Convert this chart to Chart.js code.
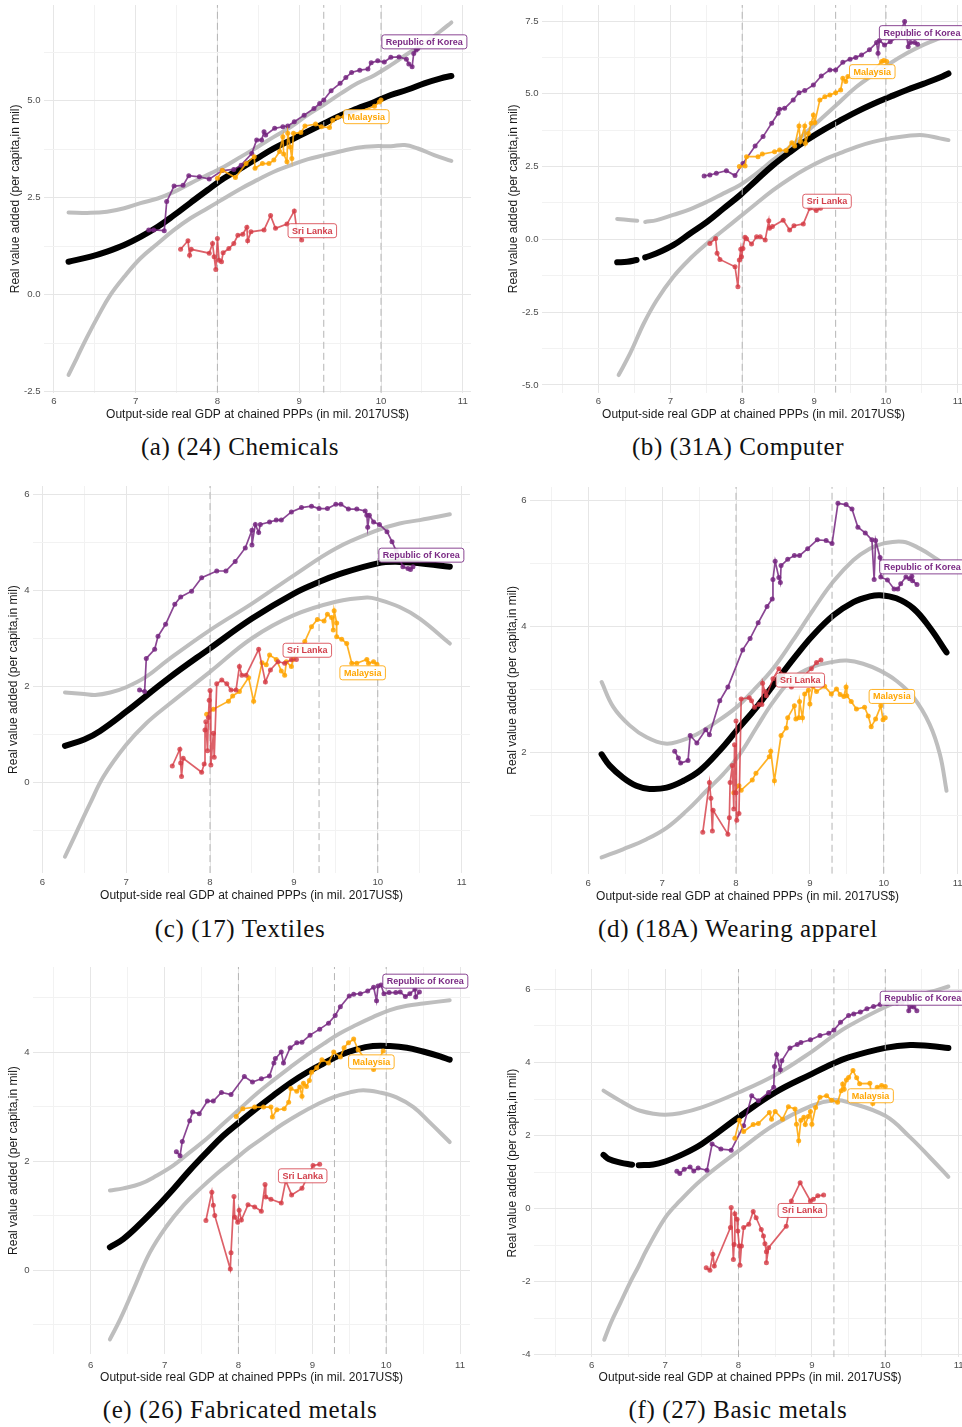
<!DOCTYPE html>
<html>
<head>
<meta charset="utf-8">
<script src="https://cdn.jsdelivr.net/npm/chart.js@4.4.0/dist/chart.umd.min.js"></script>
<style>
html, body { margin:0; padding:0; background:#fff; }
body { width:962px; height:1427px; overflow:hidden; position:relative; }
canvas { position:absolute; }
.cap { position:absolute; font-family:"Liberation Serif", serif; font-size:25px; letter-spacing:0.6px; color:#111;
       white-space:nowrap; transform:translate(-50%,-50%); }
</style>
</head>
<body>
<script>
// ---- shared ----
const countries = ['Republic of Korea', 'Malaysia', 'Sri Lanka'];
const vlines = [8, 9.3, 10];
const xTickVals = [5.5, 6, 6.5, 7, 7.5, 8, 8.5, 9, 9.5, 10, 10.5, 11];
const xTickLabels = ['', '6', '', '7', '', '8', '', '9', '', '10', '', '11'];

// ---- (a) (24) Chemicals ----
const chemFit = [[6.18,0.85],[6.45,0.98],[6.65,1.11],[6.86,1.28],[7.06,1.49],[7.27,1.75],[7.47,2.05],[7.67,2.37],[7.88,2.7],[8.08,3.0],[8.29,3.26],[8.49,3.52],[8.69,3.77],[8.9,3.99],[9.1,4.2],[9.31,4.42],[9.51,4.63],[9.71,4.8],[9.92,4.97],[10.12,5.15],[10.33,5.29],[10.53,5.45],[10.73,5.58],[10.86,5.64]];
const chemUpper = [[6.18,2.12],[6.45,2.11],[6.65,2.14],[6.86,2.23],[7.06,2.36],[7.27,2.48],[7.47,2.65],[7.67,2.87],[7.88,3.09],[8.08,3.3],[8.29,3.56],[8.49,3.81],[8.69,4.07],[8.9,4.33],[9.1,4.63],[9.31,4.91],[9.51,5.19],[9.71,5.45],[9.92,5.66],[10.12,5.92],[10.33,6.22],[10.53,6.48],[10.73,6.8],[10.86,7.02]];
const chemLower = [[6.18,-2.07],[6.28,-1.64],[6.4,-1.12],[6.55,-0.52],[6.69,-0.01],[6.86,0.46],[7.06,0.94],[7.27,1.32],[7.47,1.67],[7.67,1.97],[7.88,2.23],[8.08,2.48],[8.29,2.74],[8.49,2.96],[8.69,3.17],[8.9,3.34],[9.1,3.49],[9.31,3.6],[9.51,3.7],[9.71,3.79],[9.92,3.83],[10.12,3.83],[10.29,3.86],[10.45,3.77],[10.65,3.6],[10.86,3.45]];
const chemKorea = [[7.16,1.67],[7.22,1.67],[7.35,1.65],[7.38,2.4],[7.47,2.8],[7.58,2.82],[7.65,3.07],[7.78,3.04],[7.9,2.98],[8.06,3.2],[8.2,3.23],[8.29,3.34],[8.42,3.64],[8.48,3.99],[8.54,3.99],[8.57,4.2],[8.59,4.12],[8.7,4.29],[8.8,4.33],[8.86,4.35],[8.94,4.46],[9.06,4.63],[9.18,4.8],[9.25,4.93],[9.3,5.02],[9.39,5.26],[9.5,5.45],[9.57,5.6],[9.64,5.73],[9.74,5.79],[9.84,5.82],[9.88,5.98],[9.96,6.03],[10.04,6.0],[10.12,6.12],[10.22,6.13],[10.31,6.07],[10.34,5.95],[10.38,5.88],[10.4,6.22],[10.43,6.31],[10.45,6.35]];
const chemMalaysia = [[8.0,3.0],[8.06,3.21],[8.22,3.02],[8.35,3.38],[8.45,3.56],[8.46,3.26],[8.55,3.38],[8.63,3.38],[8.69,3.47],[8.76,3.69],[8.8,4.07],[8.81,3.63],[8.85,3.43],[8.86,4.16],[8.89,3.81],[8.91,3.51],[8.93,4.16],[9.02,4.18],[9.07,4.35],[9.2,4.4],[9.27,4.33],[9.37,4.31],[9.41,4.5],[9.47,4.57],[9.55,4.59],[9.92,4.86],[9.98,4.97],[10.0,5.02]];
const chemSriLanka = [[7.55,1.17],[7.64,1.39],[7.66,1.02],[7.68,1.17],[7.9,1.07],[7.94,1.32],[7.96,0.98],[7.98,0.65],[8.0,1.45],[8.02,0.89],[8.05,0.85],[8.07,1.08],[8.14,1.19],[8.2,1.32],[8.25,1.53],[8.31,1.56],[8.36,1.74],[8.37,1.39],[8.41,1.62],[8.57,1.67],[8.65,2.04],[8.71,1.71],[8.85,1.82],[8.94,2.16],[8.97,1.67],[9.03,1.41]];
const chemLabels = [[10.53,6.52],[9.82,4.59],[9.16,1.65]];
const chemYTicks = [-2.5, -1.25, 0, 1.25, 2.5, 3.75, 5, 6.25];
const chemYLabels = ['-2.5', '', '0.0', '', '2.5', '', '5.0', ''];

// ---- (b) (31A) Computer ----
const compFit = [[6.26,-0.79],[6.4,-0.77],[6.53,-0.71],[6.58,null],[6.65,-0.62],[6.81,-0.48],[7.04,-0.2],[7.28,0.21],[7.51,0.6],[7.74,1.06],[7.97,1.52],[8.2,2.04],[8.43,2.55],[8.67,3.01],[8.9,3.41],[9.13,3.76],[9.36,4.08],[9.59,4.38],[9.82,4.65],[10.06,4.9],[10.29,5.13],[10.52,5.34],[10.75,5.56],[10.87,5.7]];
const compUpper = [[6.26,0.7],[6.45,0.66],[6.54,0.64],[6.58,null],[6.65,0.6],[6.81,0.66],[7.04,0.84],[7.28,1.04],[7.51,1.29],[7.74,1.58],[7.97,1.87],[8.2,2.27],[8.43,2.73],[8.67,3.18],[8.9,3.7],[9.13,4.21],[9.36,4.73],[9.59,5.24],[9.82,5.65],[10.06,6.05],[10.29,6.39],[10.52,6.68],[10.75,6.91],[10.87,7.02]];
const compLower = [[6.28,-4.66],[6.44,-3.92],[6.63,-2.89],[6.81,-2.09],[7.04,-1.29],[7.28,-0.65],[7.51,-0.14],[7.74,0.32],[7.97,0.78],[8.2,1.24],[8.43,1.69],[8.67,2.1],[8.9,2.44],[9.13,2.73],[9.36,2.96],[9.59,3.18],[9.82,3.35],[10.06,3.47],[10.29,3.55],[10.52,3.58],[10.75,3.47],[10.87,3.41]];
const compKorea = [[7.47,2.18],[7.55,2.21],[7.64,2.27],[7.78,2.36],[7.9,2.19],[8.01,2.61],[8.18,3.21],[8.29,3.53],[8.41,3.99],[8.5,4.33],[8.52,4.47],[8.59,4.5],[8.71,4.79],[8.79,5.04],[8.87,5.11],[8.99,5.3],[9.1,5.61],[9.22,5.82],[9.3,5.82],[9.4,6.08],[9.5,6.19],[9.58,6.25],[9.66,6.33],[9.77,6.51],[9.87,6.76],[9.89,6.39],[9.91,6.83],[9.98,6.68],[10.06,6.79],[10.17,6.96],[10.26,7.48],[10.31,6.62],[10.34,6.76],[10.4,6.76],[10.44,6.7]];
const compMalaysia = [[7.96,2.5],[8.04,2.52],[8.06,2.84],[8.22,2.84],[8.28,2.93],[8.45,3.01],[8.52,3.07],[8.61,3.05],[8.69,3.32],[8.73,3.21],[8.79,3.89],[8.81,3.36],[8.87,3.89],[8.88,3.3],[8.92,3.64],[8.96,3.99],[8.99,4.27],[9.01,4.01],[9.08,4.79],[9.15,4.9],[9.22,4.96],[9.3,5.04],[9.37,5.13],[9.4,5.53],[9.44,5.42],[9.47,5.59],[9.73,5.57],[9.94,6.11],[9.97,6.14],[10.01,6.11]];
const compSriLanka = [[7.55,-0.14],[7.63,0.03],[7.65,-0.48],[7.69,-0.69],[7.9,-0.94],[7.94,-1.63],[7.96,-0.71],[7.98,-0.34],[7.99,-0.6],[8.01,-0.31],[8.04,0.07],[8.06,0.02],[8.13,-0.16],[8.2,0.09],[8.25,0.09],[8.32,-0.02],[8.37,0.64],[8.38,0.38],[8.42,0.44],[8.57,0.66],[8.66,0.32],[8.72,0.47],[8.85,0.53],[8.94,1.07],[9.03,0.99],[9.09,1.07]];
const compLabels = [[10.5,7.1],[9.81,5.76],[9.18,1.31]];
const compYTicks = [-5, -3.75, -2.5, -1.25, 0, 1.25, 2.5, 3.75, 5, 6.25, 7.5];
const compYLabels = ['-5.0', '', '-2.5', '', '0.0', '', '2.5', '', '5.0', '', '7.5'];

// ---- (c) (17) Textiles ----
const texFit = [[6.27,0.76],[6.5,0.89],[6.69,1.07],[7,1.47],[7.5,2.16],[8,2.79],[8.5,3.41],[9,3.93],[9.3,4.17],[9.5,4.31],[10,4.56],[10.26,4.59],[10.5,4.56],[10.86,4.49]];
const texUpper = [[6.27,1.87],[6.5,1.84],[6.63,1.82],[6.81,1.87],[7,1.98],[7.24,2.2],[7.5,2.55],[8,3.17],[8.5,3.72],[9,4.31],[9.5,4.87],[10,5.25],[10.26,5.39],[10.5,5.46],[10.86,5.58]];
const texLower = [[6.27,-1.55],[6.41,-1.03],[6.57,-0.44],[6.73,0.12],[7,0.78],[7.24,1.23],[7.5,1.61],[8,2.3],[8.5,3.0],[9,3.48],[9.5,3.76],[9.87,3.85],[10,3.81],[10.26,3.65],[10.5,3.41],[10.86,2.89]];
const texKorea = [[7.16,1.92],[7.22,1.89],[7.24,2.58],[7.34,2.77],[7.38,3.04],[7.47,3.29],[7.58,3.71],[7.65,3.86],[7.78,3.98],[7.9,4.26],[8.08,4.4],[8.19,4.4],[8.3,4.6],[8.42,4.88],[8.5,5.25],[8.5,4.94],[8.54,5.37],[8.58,5.2],[8.6,5.37],[8.71,5.42],[8.79,5.46],[8.85,5.46],[8.97,5.63],[9.09,5.72],[9.21,5.75],[9.3,5.7],[9.4,5.7],[9.5,5.79],[9.56,5.79],[9.65,5.69],[9.75,5.69],[9.85,5.65],[9.87,5.56],[9.88,5.31],[9.9,5.56],[9.95,5.42],[10.02,5.37],[10.11,5.22],[10.17,5.01],[10.22,4.82],[10.3,4.49],[10.36,4.45],[10.39,4.43],[10.42,4.49]];
const texMalaysia = [[7.96,1.42],[8.04,1.52],[8.22,1.69],[8.27,1.8],[8.35,1.89],[8.46,2.18],[8.52,1.69],[8.62,2.49],[8.67,2.45],[8.71,2.65],[8.79,2.56],[8.85,2.32],[8.89,2.23],[8.91,2.51],[8.97,2.41],[8.99,2.56],[9.13,2.93],[9.21,3.24],[9.28,3.39],[9.36,3.36],[9.4,3.5],[9.45,3.43],[9.47,3.17],[9.48,3.57],[9.51,3.32],[9.51,3.03],[9.57,2.98],[9.63,2.89],[9.69,2.48],[9.75,2.48],[9.87,2.56],[9.89,2.48],[9.95,2.51],[9.99,2.46]];
const texSriLanka = [[7.55,0.34],[7.64,0.69],[7.65,0.4],[7.66,0.12],[7.68,0.5],[7.9,0.21],[7.93,0.38],[7.94,1.09],[7.95,1.26],[7.97,0.66],[7.98,1.35],[7.99,1.71],[8.0,1.91],[8.01,0.36],[8.04,1.02],[8.05,0.52],[8.08,2.05],[8.14,2.13],[8.2,2.05],[8.25,1.92],[8.31,1.92],[8.35,2.41],[8.38,2.23],[8.43,2.23],[8.58,2.77],[8.66,2.09],[8.72,2.34],[8.81,2.51],[8.89,2.48],[8.97,2.55],[9.03,2.56]];
const texLabels = [[10.52,4.73],[9.82,2.28],[9.16,2.75]];
const texYTicks = [-1, 0, 1, 2, 3, 4, 5, 6];
const texYLabels = ['', '0', '', '2', '', '4', '', '6'];

// ---- (d) (18A) Wearing apparel ----
const wearFit = [[6.18,1.97],[6.29,1.79],[6.47,1.6],[6.65,1.47],[6.83,1.42],[7.06,1.44],[7.29,1.55],[7.51,1.71],[7.78,2.03],[8.01,2.35],[8.28,2.72],[8.55,3.14],[8.82,3.55],[9.04,3.86],[9.32,4.18],[9.59,4.39],[9.81,4.48],[9.95,4.5],[10.17,4.45],[10.4,4.29],[10.62,3.99],[10.85,3.59]];
const wearUpper = [[6.18,3.12],[6.34,2.72],[6.56,2.43],[6.79,2.24],[7.04,2.14],[7.24,2.18],[7.47,2.29],[7.69,2.45],[8.01,2.72],[8.23,2.98],[8.5,3.33],[8.77,3.78],[9.04,4.26],[9.32,4.72],[9.59,5.06],[9.81,5.24],[9.99,5.32],[10.26,5.35],[10.49,5.24],[10.71,5.08],[10.86,4.95]];
const wearLower = [[6.18,0.33],[6.47,0.46],[6.79,0.62],[7.06,0.8],[7.33,1.07],[7.6,1.39],[7.83,1.66],[8.05,1.97],[8.28,2.4],[8.5,2.8],[8.77,3.18],[9.04,3.36],[9.32,3.44],[9.5,3.46],[9.72,3.41],[9.95,3.3],[10.17,3.14],[10.4,2.88],[10.62,2.45],[10.76,1.97],[10.85,1.39]];
const wearKorea = [[7.17,2.02],[7.22,1.91],[7.25,1.83],[7.35,1.87],[7.38,2.27],[7.47,2.15],[7.59,2.36],[7.64,2.28],[7.78,2.82],[7.89,3.04],[8.09,3.63],[8.19,3.81],[8.3,4.06],[8.42,4.32],[8.49,4.44],[8.5,4.75],[8.53,5.04],[8.58,4.78],[8.6,4.7],[8.61,4.97],[8.7,5.07],[8.79,5.13],[8.86,5.13],[8.97,5.24],[9.1,5.38],[9.22,5.37],[9.3,5.32],[9.38,5.96],[9.49,5.94],[9.57,5.87],[9.65,5.58],[9.75,5.49],[9.84,5.38],[9.87,4.75],[9.89,5.37],[9.95,5.1],[9.96,4.79],[10.05,4.74],[10.14,4.6],[10.19,4.6],[10.23,4.68],[10.3,4.79],[10.35,4.76],[10.38,4.8],[10.39,4.73],[10.45,4.67]];
const wearMalaysia = [[7.97,1.36],[8.04,1.47],[8.07,1.4],[8.22,1.56],[8.27,1.67],[8.45,1.93],[8.47,2.02],[8.52,1.55],[8.61,2.27],[8.68,2.39],[8.7,2.55],[8.79,2.74],[8.81,2.53],[8.85,2.55],[8.86,2.81],[8.9,2.55],[8.93,2.93],[8.98,2.99],[9.0,2.77],[9.04,3.05],[9.09,2.97],[9.2,3.05],[9.29,2.93],[9.36,3.01],[9.41,2.92],[9.46,2.89],[9.49,3.04],[9.5,2.9],[9.56,2.81],[9.63,2.69],[9.74,2.72],[9.79,2.58],[9.83,2.41],[9.89,2.53],[9.96,2.74],[9.99,2.52],[10.02,2.55]];
const wearSriLanka = [[7.55,0.73],[7.64,1.52],[7.66,1.27],[7.68,0.75],[7.69,1.08],[7.89,0.7],[7.91,0.96],[7.92,1.52],[7.95,1.79],[7.97,1.1],[7.98,2.12],[8.0,1.36],[8.0,2.5],[8.01,0.92],[8.04,1.03],[8.07,2.85],[8.18,2.87],[8.21,2.82],[8.25,2.72],[8.31,2.76],[8.35,2.76],[8.36,3.1],[8.39,2.97],[8.41,2.9],[8.5,3.17],[8.58,3.33],[8.75,3.04],[9.02,3.33],[9.09,3.43],[9.15,3.47]];
const wearLabels = [[10.52,4.95],[10.11,2.89],[8.87,3.15]];
const wearYTicks = [1, 2, 3, 4, 5, 6];
const wearYLabels = ['', '2', '', '4', '', '6'];

// ---- (e) (26) Fabricated metals ----
const fabFit = [[6.26,0.42],[6.44,0.57],[6.67,0.85],[6.89,1.15],[7.12,1.49],[7.34,1.83],[7.57,2.16],[7.79,2.46],[8.02,2.72],[8.25,2.97],[8.47,3.2],[8.7,3.43],[8.92,3.62],[9.15,3.79],[9.37,3.94],[9.6,4.05],[9.82,4.11],[10.05,4.11],[10.28,4.08],[10.5,4.01],[10.73,3.92],[10.86,3.86]];
const fabUpper = [[6.26,1.46],[6.44,1.5],[6.67,1.58],[6.89,1.73],[7.12,1.92],[7.34,2.16],[7.57,2.41],[7.79,2.68],[8.02,2.96],[8.25,3.24],[8.47,3.48],[8.7,3.72],[8.92,3.94],[9.15,4.15],[9.37,4.34],[9.6,4.5],[9.82,4.64],[10.05,4.77],[10.28,4.85],[10.5,4.89],[10.86,4.95]];
const fabLower = [[6.26,-1.27],[6.4,-0.9],[6.58,-0.35],[6.8,0.32],[7.03,0.81],[7.25,1.18],[7.48,1.49],[7.7,1.76],[7.93,2.01],[8.15,2.25],[8.38,2.47],[8.6,2.68],[8.83,2.87],[9.05,3.03],[9.28,3.17],[9.51,3.26],[9.69,3.3],[9.91,3.26],[10.14,3.17],[10.37,2.99],[10.59,2.71],[10.86,2.35]];
const fabKorea = [[7.16,2.17],[7.21,2.1],[7.24,2.36],[7.34,2.74],[7.38,2.9],[7.47,2.87],[7.58,3.1],[7.66,3.1],[7.77,3.26],[7.9,3.22],[8.08,3.55],[8.19,3.45],[8.31,3.51],[8.42,3.56],[8.48,3.8],[8.5,3.88],[8.58,4.0],[8.61,3.8],[8.7,4.08],[8.79,4.17],[8.86,4.18],[8.97,4.31],[9.1,4.42],[9.22,4.53],[9.31,4.67],[9.38,4.83],[9.5,5.03],[9.56,5.06],[9.65,5.07],[9.75,5.12],[9.83,5.19],[9.87,4.94],[9.89,5.21],[9.93,5.23],[9.97,5.07],[10.04,5.09],[10.13,5.09],[10.19,5.1],[10.26,5.02],[10.32,5.07],[10.39,5.15],[10.4,5.01],[10.45,5.1]];
const fabMalaysia = [[7.97,2.82],[8.06,2.96],[8.22,2.99],[8.34,2.99],[8.44,2.99],[8.46,2.81],[8.52,2.94],[8.62,2.96],[8.68,3.08],[8.71,3.33],[8.79,3.28],[8.83,3.36],[8.86,3.19],[8.88,3.43],[8.92,3.37],[8.96,3.48],[8.99,3.63],[9.06,3.71],[9.13,3.86],[9.22,3.8],[9.29,4.0],[9.38,3.91],[9.43,4.08],[9.49,4.17],[9.56,4.24],[9.62,4.04],[9.83,3.68],[9.96,4.02]];
const fabSriLanka = [[7.56,0.91],[7.64,1.43],[7.66,1.19],[7.68,1.0],[7.89,0.02],[7.9,0.32],[7.94,1.35],[7.95,0.97],[7.99,0.88],[8.01,1.1],[8.04,0.92],[8.13,1.2],[8.22,1.16],[8.31,1.08],[8.36,1.57],[8.37,1.34],[8.44,1.3],[8.58,1.23],[8.64,1.64],[8.72,1.38],[8.86,1.5],[9.01,1.92],[9.1,1.94]];
const fabLabels = [[10.53,5.3],[9.8,3.82],[8.87,1.73]];
const fabYTicks = [-1, 0, 1, 2, 3, 4, 5];
const fabYLabels = ['', '0', '', '2', '', '4', ''];

// ---- (f) (27) Basic metals ----
const basFit = [[6.16,1.47],[6.23,1.36],[6.39,1.26],[6.55,1.2],[6.59,null],[6.64,1.19],[6.84,1.21],[7,1.29],[7.2,1.45],[7.5,1.77],[8,2.5],[8.5,3.18],[9,3.69],[9.3,3.98],[9.5,4.14],[10,4.4],[10.34,4.48],[10.61,4.45],[10.86,4.4]];
const basUpper = [[6.16,3.23],[6.39,2.95],[6.55,2.77],[6.66,2.68],[6.84,2.6],[7,2.57],[7.2,2.61],[7.5,2.77],[8,3.18],[8.5,3.66],[9,4.3],[9.3,4.74],[9.5,5.0],[10,5.52],[10.34,5.79],[10.61,5.93],[10.86,6.08]];
const basLower = [[6.17,-3.59],[6.26,-3.13],[6.39,-2.58],[6.52,-2.03],[6.64,-1.57],[6.75,-1.12],[7,-0.25],[7.2,0.21],[7.5,0.8],[8,1.58],[8.5,2.31],[9,2.82],[9.3,2.97],[9.5,2.91],[10,2.54],[10.34,1.95],[10.61,1.4],[10.86,0.87]];
const basKorea = [[7.16,1.02],[7.2,0.96],[7.26,1.08],[7.34,1.14],[7.39,1.03],[7.45,1.11],[7.57,1.05],[7.64,1.77],[7.76,1.63],[7.9,1.6],[8.07,2.27],[8.18,3.09],[8.27,2.95],[8.41,3.18],[8.48,3.32],[8.49,3.89],[8.52,4.22],[8.57,3.8],[8.59,4.05],[8.7,4.4],[8.8,4.49],[8.85,4.55],[8.98,4.62],[9.11,4.74],[9.23,4.8],[9.3,4.89],[9.39,5.1],[9.5,5.29],[9.57,5.33],[9.66,5.38],[9.75,5.47],[9.84,5.53],[9.93,5.59],[10.02,5.61],[10.16,5.63],[10.23,5.65],[10.3,5.72],[10.32,5.42],[10.35,5.53],[10.39,5.52],[10.43,5.42]];
const basMalaysia = [[7.95,1.93],[8.01,2.42],[8.07,2.11],[8.2,2.3],[8.27,2.33],[8.42,2.63],[8.45,2.45],[8.5,2.66],[8.6,2.45],[8.68,2.79],[8.77,2.73],[8.79,2.31],[8.82,1.86],[8.85,2.42],[8.89,2.5],[8.91,2.3],[8.95,2.52],[8.98,2.66],[9.0,2.31],[9.05,2.77],[9.11,3.05],[9.2,3.09],[9.27,2.97],[9.35,2.91],[9.4,3.23],[9.42,3.41],[9.44,3.27],[9.47,3.52],[9.5,3.59],[9.56,3.78],[9.61,3.58],[9.65,3.42],[9.79,3.43],[9.83,2.88],[9.89,3.32],[9.95,3.37],[10.0,3.34]];
const basSriLanka = [[7.56,-1.62],[7.61,-1.69],[7.65,-1.25],[7.67,-1.57],[7.89,-0.52],[7.9,0.03],[7.93,-1.39],[7.94,-0.98],[7.95,-0.14],[7.98,-0.29],[7.99,-0.61],[8.01,-1.02],[8.02,-1.55],[8.04,-1.02],[8.07,-0.52],[8.14,-0.43],[8.2,-0.08],[8.24,-0.25],[8.31,-0.57],[8.34,-0.75],[8.36,-0.96],[8.38,-1.18],[8.38,-1.48],[8.41,-1.07],[8.65,-0.48],[8.72,0.21],[8.84,0.71],[8.98,0.21],[9.02,0.26],[9.08,0.35],[9.16,0.37]];
const basLabels = [[10.51,5.76],[9.8,3.09],[8.87,-0.05]];
const basYTicks = [-4, -3, -2, -1, 0, 1, 2, 3, 4, 5, 6];
const basYLabels = ['-4', '', '-2', '', '0', '', '2', '', '4', '', '6'];

const captions = ['(a) (24) Chemicals', '(b) (31A) Computer', '(c) (17) Textiles',
                  '(d) (18A) Wearing apparel', '(e) (26) Fabricated metals', '(f) (27) Basic metals'];

// panel layout: plot box in page px, axis ranges
const panels = [
  {fit:chemFit, up:chemUpper, lo:chemLower, kor:chemKorea, mal:chemMalaysia, sri:chemSriLanka, lab:chemLabels,
   yt:chemYTicks, yl:chemYLabels, xr:[5.88,11.1], yr:[-2.53,7.47], L:43.5, T:5, R:470, B:393, yTitleX:15, xTitleY:415, xLabY:402, cap:[240,447]},
  {fit:compFit, up:compUpper, lo:compLower, kor:compKorea, mal:compMalaysia, sri:compSriLanka, lab:compLabels,
   yt:compYTicks, yl:compYLabels, xr:[5.214,11.1], yr:[-5.27,8.05], L:541.8, T:5, R:965, B:393, yTitleX:513, xTitleY:415, xLabY:402, cap:[738,447]},
  {fit:texFit, up:texUpper, lo:texLower, kor:texKorea, mal:texMalaysia, sri:texSriLanka, lab:texLabels,
   yt:texYTicks, yl:texYLabels, xr:[5.889,11.1], yr:[-1.89,6.17], L:33, T:486, R:470, B:873.3, yTitleX:14, xTitleY:896, xLabY:883, cap:[240,929]},
  {fit:wearFit, up:wearUpper, lo:wearLower, kor:wearKorea, mal:wearMalaysia, sri:wearSriLanka, lab:wearLabels,
   yt:wearYTicks, yl:wearYLabels, xr:[5.211,11.1], yr:[0.07,6.22], L:530, T:486.7, R:965.2, B:873, yTitleX:513, xTitleY:896, xLabY:883, cap:[738,929]},
  {fit:fabFit, up:fabUpper, lo:fabLower, kor:fabKorea, mal:fabMalaysia, sri:fabSriLanka, lab:fabLabels,
   yt:fabYTicks, yl:fabYLabels, xr:[5.219,11.135], yr:[-1.54,5.56], L:33, T:966.7, R:470, B:1353.3, yTitleX:14, xTitleY:1377, xLabY:1365, cap:[240,1410]},
  {fit:basFit, up:basUpper, lo:basLower, kor:basKorea, mal:basMalaysia, sri:basSriLanka, lab:basLabels,
   yt:basYTicks, yl:basYLabels, xr:[5.213,11.1], yr:[-4.07,6.56], L:534, T:968.5, R:965.5, B:1356.5, yTitleX:513, xTitleY:1377, xLabY:1365, cap:[738,1410]}
];

const lineCols = ['rgba(118,38,128,0.85)', 'rgba(255,165,0,0.85)', 'rgba(212,58,68,0.8)'];
const textCols = ['#7a2a84', '#ffa500', '#d23f4b'];
const FONT = '"Liberation Sans", Arial, sans-serif';

const toXY = a => a.map(p => ({x: p[0], y: p[1]}));

const labelPlugin = {
  id: 'countryLabels',
  afterDatasetsDraw(chart, args, opts) {
    const {ctx, scales: {x, y}} = chart;
    ctx.save();
    ctx.font = 'bold 9px ' + FONT;
    ctx.textAlign = 'center';
    ctx.textBaseline = 'middle';
    opts.points.forEach((p, i) => {
      const px = x.getPixelForValue(p[0]), py = y.getPixelForValue(p[1]);
      const w = ctx.measureText(countries[i]).width + 8, h = 14;
      ctx.beginPath();
      ctx.roundRect(px - w / 2, py - h / 2, w, h, 2.5);
      ctx.fillStyle = 'rgba(255,255,255,0.9)';
      ctx.fill();
      ctx.lineWidth = 1;
      ctx.strokeStyle = lineCols[i];
      ctx.stroke();
      ctx.fillStyle = textCols[i];
      ctx.fillText(countries[i], px, py + 0.5);
    });
    ctx.restore();
  }
};

function curve(data, color, width, order) {
  return {data: toXY(data), borderColor: color, borderWidth: width, pointRadius: 0,
          tension: 0.4, borderCapStyle: 'round', spanGaps: false, order: order};
}
function country(data, i) {
  return {data: toXY(data), borderColor: lineCols[i], borderWidth: 1.7, pointRadius: 2.5,
          pointBackgroundColor: lineCols[i], pointBorderWidth: 0, tension: 0, order: 2 - i * 0.5};
}

panels.forEach((p, k) => {
  const cx = p.L - 50, cy = p.T - 12;
  const cw = p.R + 10 - cx, ch = p.xTitleY + 7.2 - cy;
  const cv = document.createElement('canvas');
  cv.width = Math.round(cw); cv.height = Math.round(ch);
  cv.style.left = cx + 'px'; cv.style.top = cy + 'px';
  cv.style.width = Math.round(cw) + 'px'; cv.style.height = Math.round(ch) + 'px';
  document.body.appendChild(cv);

  const cap = document.createElement('div');
  cap.className = 'cap';
  cap.textContent = captions[k];
  cap.style.left = p.cap[0] + 'px'; cap.style.top = p.cap[1] + 'px';
  document.body.appendChild(cap);

  const datasets = [
    curve(p.up, '#bebebe', 4, 6),
    curve(p.lo, '#bebebe', 4, 6),
    curve(p.fit, '#000000', 6, 5),
    ...vlines.map(v => ({data: [{x: v, y: p.yr[0]}, {x: v, y: p.yr[1]}], borderColor: '#b5b5b5',
                         borderWidth: 1, borderDash: [7, 4], pointRadius: 0, order: 4})),
    country(p.sri, 2),
    country(p.mal, 1),
    country(p.kor, 0)
  ];

  new Chart(cv, {
    type: 'line',
    data: {datasets},
    options: {
      responsive: false, animation: false, events: [],
      layout: {padding: {left: 0, top: 12, right: 10, bottom: 0}},
      plugins: {legend: {display: false}, tooltip: {enabled: false}, countryLabels: {points: p.lab}},
      scales: {
        x: {
          type: 'linear', min: p.xr[0], max: p.xr[1],
          afterBuildTicks: s => { s.ticks = xTickVals.filter(v => v >= p.xr[0] && v <= p.xr[1]).map(v => ({value: v})); },
          afterFit: s => { s.height = cy + ch - p.B; },
          ticks: {autoSkip: false, maxRotation: 0, padding: p.xLabY - p.B - 5.76, color: '#4d4d4d',
                  font: {family: FONT, size: 9.6},
                  callback: v => xTickLabels[xTickVals.indexOf(v)]},
          grid: {drawTicks: false, lineWidth: 1,
                 color: c => (c.tick && Number.isInteger(c.tick.value)) ? '#e6e6e6' : '#f2f2f2'},
          border: {display: false},
          title: {display: true, text: 'Output-side real GDP at chained PPPs (in mil. 2017US$)',
                  color: '#1a1a1a', font: {family: FONT, size: 12}, padding: {top: 0, bottom: 0}}
        },
        y: {
          type: 'linear', min: p.yr[0], max: p.yr[1],
          afterBuildTicks: s => { s.ticks = p.yt.filter(v => v >= p.yr[0] && v <= p.yr[1]).map(v => ({value: v})); },
          afterFit: s => { s.width = 50; },
          ticks: {autoSkip: false, padding: 3.5, color: '#4d4d4d', font: {family: FONT, size: 9.6},
                  callback: v => p.yl[p.yt.indexOf(v)]},
          grid: {drawTicks: false, lineWidth: 1,
                 color: c => (c.tick && p.yl[p.yt.indexOf(c.tick.value)] !== '') ? '#e6e6e6' : '#f2f2f2'},
          border: {display: false},
          title: {display: true, text: 'Real value added (per capita,in mil)', color: '#1a1a1a',
                  font: {family: FONT, size: 12}, padding: {top: p.yTitleX - cx - 7.2, bottom: 0}}
        }
      }
    },
    plugins: [labelPlugin]
  });
});
</script>
</body>
</html>
